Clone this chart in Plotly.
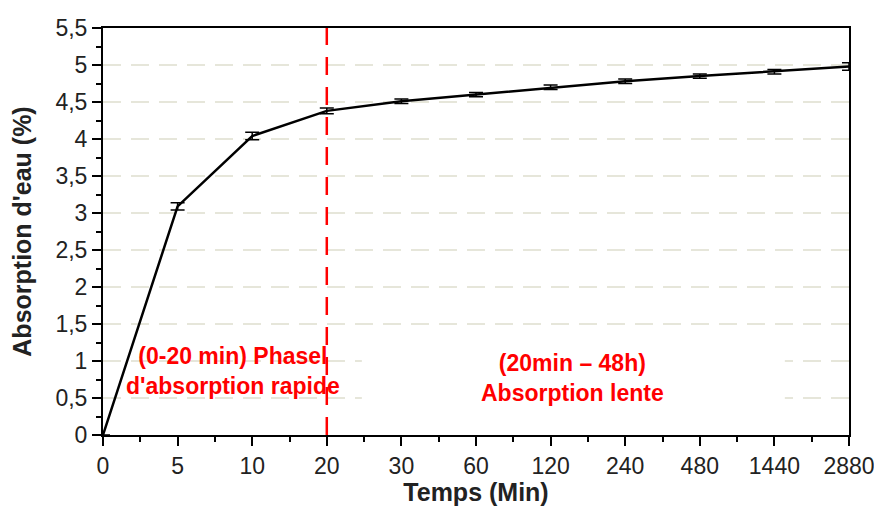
import plotly.graph_objects as go

# Temps (min) et absorption d'eau (%)
temps = ["0", "5", "10", "20", "30", "60", "120", "240", "480", "1440", "2880"]
absorption = [0.0, 3.09, 4.04, 4.38, 4.51, 4.60, 4.70, 4.78, 4.85, 4.91, 4.98]
erreur = [0.0, 0.05, 0.05, 0.04, 0.03, 0.03, 0.03, 0.03, 0.03, 0.03, 0.05]

pos = list(range(len(temps)))
idx20 = temps.index("20")
police = "Liberation Sans, Arial, sans-serif"

fig = go.Figure()
fig.add_trace(go.Scatter(
    x=pos, y=absorption, mode="lines",
    line=dict(color="black", width=2.5),
    error_y=dict(type="data", array=erreur, visible=True,
                 color="black", thickness=1.5, width=7),
    showlegend=False, cliponaxis=False,
))

# zone blanche derriere le texte de droite
fig.add_shape(type="rect", xref="x", yref="y", x0=3.47, x1=9.14, y0=0.27, y1=1.31,
              fillcolor="white", line_width=0, layer="between")

# separation des deux phases
fig.add_shape(type="line", xref="x", yref="y", x0=idx20, x1=idx20, y0=0, y1=5.5,
              line=dict(color="red", width=2.5, dash="18px,12px"), layer="above")

fig.add_annotation(x=1.74, y=0.87, xref="x", yref="y", showarrow=False,
                   text="(0-20 min) Phasel<br>d'absorption rapide",
                   font=dict(family=police, size=23, color="red", weight="bold"))
fig.add_annotation(x=6.3, y=0.77, xref="x", yref="y", showarrow=False,
                   text="(20min – 48h)<br>Absorption lente",
                   font=dict(family=police, size=23, color="red", weight="bold"))

fig.update_layout(
    width=866, height=498,
    margin=dict(l=95, r=25, t=20, b=71),
    paper_bgcolor="white", plot_bgcolor="white",
    separators=", ",
    font=dict(family=police, size=23, color="#222"),
    xaxis=dict(
        range=[0, len(temps) - 1], tickmode="array", tickvals=pos, ticktext=temps,
        showgrid=False, zeroline=False, automargin=False, ticklabeloverflow="allow",
        showline=True, linecolor="black", linewidth=2, mirror=True,
        ticks="outside", ticklen=9, tickwidth=2, tickcolor="black",
        tickfont=dict(family=police, size=23, color="#222"),
        minor=dict(dtick=0.5, tick0=0, ticks="outside", ticklen=5, tickwidth=1.5, tickcolor="black"),
        title=dict(text="<b>Temps (Min)</b>", standoff=17, font=dict(size=25, color="#222")),
    ),
    yaxis=dict(
        range=[0, 5.5], dtick=0.5, tick0=0,
        showgrid=True, gridcolor="#e6e6da", gridwidth=1.5, griddash="18px,10px",
        zeroline=False, automargin=False, ticklabeloverflow="allow",
        showline=True, linecolor="black", linewidth=2, mirror=True,
        ticks="outside", ticklen=9, tickwidth=2, tickcolor="black",
        tickfont=dict(family=police, size=23, color="#222"),
        minor=dict(dtick=0.25, tick0=0, ticks="outside", ticklen=5, tickwidth=1.5,
                   tickcolor="black", showgrid=False),
        title=dict(text="<b>Absorption d'eau (%)</b>", standoff=17, font=dict(size=25, color="#222")),
    ),
)

fig.write_html("out.html")
